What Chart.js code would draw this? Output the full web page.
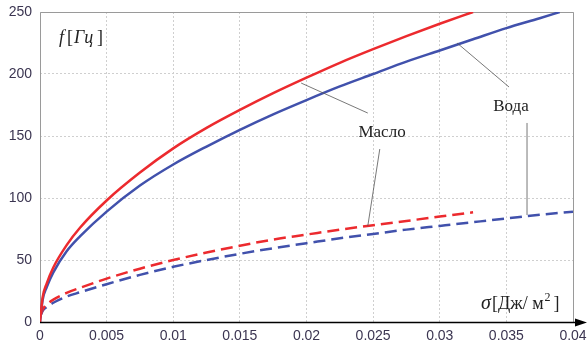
<!DOCTYPE html>
<html>
<head>
<meta charset="utf-8">
<script src="https://cdn.jsdelivr.net/npm/chart.js@4"></script>
<style>
  html, body { margin: 0; padding: 0; background: #fff; }
  #wrap { width: 587px; height: 349px; }
</style>
</head>
<body>
<div id="wrap"><canvas id="myChart" width="587" height="349"></canvas></div>
<script>
// sigma values (Дж/м²) and frequency readings (Гц)
let sigmaOil = [0, 0.0002, 0.0005, 0.001, 0.002, 0.003, 0.005, 0.0075, 0.01, 0.0125, 0.015, 0.0175, 0.02, 0.0225, 0.025, 0.0275, 0.03, 0.0325]
let oilSolid = [0, 20, 31, 44, 62, 76, 98, 120.5, 140, 156.5, 171, 184.5, 197, 209, 220, 230.5, 240.5, 250]
let oilDashed = [4, 10, 14, 18, 23.5, 27.5, 35, 43, 50, 56, 61.5, 66.5, 70.5, 74.5, 78, 81.5, 85, 88.5]

let sigmaWaterSolid = [0, 0.0002, 0.0005, 0.001, 0.002, 0.003, 0.005, 0.0075, 0.01, 0.0125, 0.015, 0.0175, 0.02, 0.0225, 0.025, 0.0275, 0.03, 0.0325, 0.035, 0.0375, 0.039]
let waterSolid = [0, 18, 28, 40, 57, 69, 89, 110, 127, 141.5, 155, 167.5, 179, 190, 200, 210, 219, 228, 237, 245, 250]
let sigmaWaterDashed = [0, 0.0002, 0.0005, 0.001, 0.002, 0.003, 0.005, 0.0075, 0.01, 0.0125, 0.015, 0.0175, 0.02, 0.0225, 0.025, 0.0275, 0.03, 0.0325, 0.035, 0.0375, 0.04]
let waterDashed = [4, 9, 12, 15.5, 20.5, 24, 30.5, 38, 44.5, 50, 55, 59.5, 63.5, 67.5, 71, 74.5, 77.5, 80.5, 83.5, 86.5, 89]

let xTicks = [0, 0.005, 0.01, 0.015, 0.02, 0.025, 0.03, 0.035, 0.04]
let xTickLabels = ['0', '0.005', '0.01', '0.015', '0.02', '0.025', '0.03', '0.035', '0.04']
let yTicks = [0, 50, 100, 150, 200, 250]

const RED = '#ec2a2e'
const BLUE = '#4151ac'

function pts(xs, ys) {
    return xs.map((x, i) => ({ x: x, y: ys[i] }))
}

// annotation text + leader lines, in data coordinates
let labels = [
    { text: 'Масло', x: 0.02567, y: 153 },
    { text: 'Вода', x: 0.03535, y: 173.5 }
]
let leaders = [
    [0.0196, 192.7, 0.0246, 168.5],
    [0.0255, 139.5, 0.0246, 77.4],
    [0.0313, 225, 0.0352, 189.5],
    [0.03655, 160.5, 0.03655, 86.3]
]

let decor = {
    id: 'decor',
    beforeDatasetsDraw(chart) {
        let c = chart.ctx, a = chart.chartArea
        c.save()
        c.strokeStyle = '#9a9a9a'
        c.lineWidth = 1
        c.beginPath()
        c.moveTo(a.left + 0.5, a.bottom)
        c.lineTo(a.left + 0.5, a.top + 0.5)
        c.lineTo(a.right + 0.5, a.top + 0.5)
        c.lineTo(a.right + 0.5, a.bottom)
        c.stroke()
        c.restore()
    },
    afterDatasetsDraw(chart) {
        let c = chart.ctx, a = chart.chartArea
        let xs = chart.scales.x, ys = chart.scales.y
        c.save()
        // x axis with arrow
        c.strokeStyle = '#000'
        c.fillStyle = '#000'
        c.lineWidth = 1.5
        c.beginPath()
        c.moveTo(a.left, a.bottom + 0.5)
        c.lineTo(a.right + 6, a.bottom + 0.5)
        c.stroke()
        c.beginPath()
        c.moveTo(a.right + 14, a.bottom + 0.5)
        c.lineTo(a.right + 2, a.bottom - 3.5)
        c.lineTo(a.right + 2, a.bottom + 4.5)
        c.closePath()
        c.fill()

        // leader lines
        c.strokeStyle = '#555'
        c.lineWidth = 0.8
        leaders.forEach(l => {
            c.beginPath()
            c.moveTo(xs.getPixelForValue(l[0]), ys.getPixelForValue(l[1]))
            c.lineTo(xs.getPixelForValue(l[2]), ys.getPixelForValue(l[3]))
            c.stroke()
        })

        c.fillStyle = '#222'
        c.font = '17px "Liberation Serif"'
        c.textAlign = 'center'
        c.textBaseline = 'middle'
        labels.forEach(t => {
            c.fillText(t.text, xs.getPixelForValue(t.x), ys.getPixelForValue(t.y))
        })

        // axis titles
        c.textAlign = 'left'
        c.textBaseline = 'alphabetic'
        c.font = 'italic 18px "Liberation Serif"'
        c.fillText('f', a.left + 19, a.top + 31)
        c.font = '18px "Liberation Serif"'
        c.fillText('[', a.left + 27, a.top + 31)
        c.font = 'italic 18px "Liberation Serif"'
        c.fillText('Гц', a.left + 34, a.top + 31)
        c.font = '18px "Liberation Serif"'
        c.fillText(']', a.left + 57, a.top + 31)

        let bx = a.right - 92, by = a.bottom - 13
        c.font = 'italic 20px "Liberation Serif"'
        c.fillText('σ', bx, by)
        c.font = '18px "Liberation Serif"'
        c.fillText('[Дж/ м', bx + 11, by)
        let w = c.measureText('[Дж/ м').width
        c.font = '12px "Liberation Serif"'
        c.fillText('2', bx + 11 + w + 1, by - 8)
        c.font = '18px "Liberation Serif"'
        c.fillText(']', bx + 11 + w + 10, by)
        c.restore()
    }
}

let ctx = document.querySelector('#myChart')

let graphData = {
    type: 'line',
    data: {
        datasets: [
            { label: 'Масло', data: pts(sigmaOil, oilSolid), borderColor: RED, borderWidth: 2.5 },
            { label: 'Вода', data: pts(sigmaWaterSolid, waterSolid), borderColor: BLUE, borderWidth: 2.5 },
            { label: 'Масло', data: pts(sigmaOil, oilDashed), borderColor: RED, borderWidth: 2.5, borderDash: [12, 6] },
            { label: 'Вода', data: pts(sigmaWaterDashed, waterDashed), borderColor: BLUE, borderWidth: 2.5, borderDash: [12, 6] }
        ]
    },
    options: {
        responsive: false,
        animation: false,
        parsing: false,
        elements: { point: { radius: 0 }, line: { cubicInterpolationMode: 'monotone' } },
        layout: { padding: { top: 12, right: 14, left: 0, bottom: 0 } },
        plugins: { legend: { display: false }, tooltip: { enabled: false } },
        scales: {
            x: {
                type: 'linear',
                min: 0,
                max: 0.04,
                afterBuildTicks: s => { s.ticks = xTicks.map(v => ({ value: v })) },
                afterFit: s => { s.height = 27; s.paddingLeft = 0; s.paddingRight = 0 },
                ticks: {
                    callback: v => xTickLabels[xTicks.indexOf(v)],
                    color: '#3b3551',
                    font: { family: 'Liberation Sans', size: 14 },
                    padding: 6,
                    maxRotation: 0
                },
                grid: { color: '#cfcfcf', drawTicks: false },
                border: { display: false, dash: [2, 2] }
            },
            y: {
                min: 0,
                max: 250,
                afterBuildTicks: s => { s.ticks = yTicks.map(v => ({ value: v })) },
                afterFit: s => { s.width = 40; s.paddingTop = 0; s.paddingBottom = 0 },
                ticks: {
                    color: '#3b3551',
                    font: { family: 'Liberation Sans', size: 14 },
                    padding: 8
                },
                grid: { color: '#cfcfcf', drawTicks: false },
                border: { display: false, dash: [2, 2] }
            }
        }
    },
    plugins: [decor]
}

let myChart = new Chart(ctx, graphData)
</script>
</body>
</html>
